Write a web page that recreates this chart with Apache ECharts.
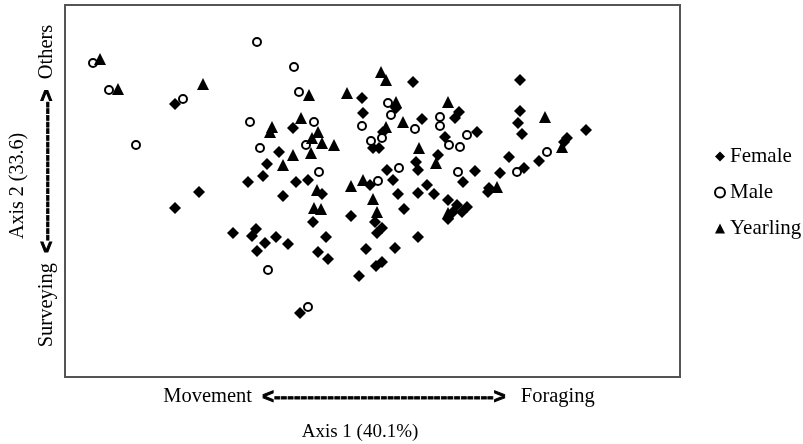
<!doctype html>
<html>
<head>
<meta charset="utf-8">
<script src="https://cdn.jsdelivr.net/npm/echarts@6/dist/echarts.min.js"></script>
<style>
  html, body { margin: 0; padding: 0; background: #fff; }
  #main { width: 803px; height: 444px; }
</style>
</head>
<body>
<div id="main"></div>
<script>
  // PCA scores (axis 1, axis 2)
  var female = [
    [-1.95, -0.18], [-1.71, -0.02], [-1.95, 0.86], [-1.03, 0.26], [-1.07, 0.14],
    [-1.22, 0.08], [-0.91, 0.38], [-0.77, 0.62], [-0.74, 0.08], [-0.62, 0.10],
    [-0.87, -0.06], [-0.48, -0.04], [-0.57, -0.32], [-0.19, -0.26], [-1.37, -0.43],
    [-1.14, -0.39], [-1.18, -0.46], [-0.94, -0.47], [-1.05, -0.53], [-0.82, -0.54],
    [-1.13, -0.61], [-0.44, -0.47], [-0.52, -0.62], [-0.42, -0.69], [-0.70, -1.23],
    [-0.11, -0.86], [-0.04, -0.59], [0.25, -0.58], [0.12, -0.72], [0.06, -0.76],
    [0.48, -0.47], [0.07, -0.43], [0.12, -0.38], [0.34, -0.19], [0.28, -0.04],
    [0.48, -0.03], [0.57, 0.05], [0.64, -0.04], [0.78, -0.10], [0.87, -0.15],
    [0.97, -0.17], [0.92, -0.22], [0.83, -0.22], [0.78, -0.29], [0.00, 0.05],
    [0.23, 0.10], [0.17, 0.20], [0.46, 0.28], [0.48, 0.20], [0.68, 0.35],
    [0.03, 0.42], [0.09, 0.42], [0.13, 0.58], [-0.08, 0.92], [-0.07, 0.77],
    [0.26, 0.82], [0.43, 1.08], [0.89, 0.78], [0.85, 0.72], [0.52, 0.71],
    [1.07, 0.58], [0.75, 0.53], [1.05, 0.19], [0.93, 0.08], [1.30, 0.17],
    [1.18, -0.02], [1.19, 0.02], [1.39, 0.33], [1.50, 1.10], [1.50, 0.79],
    [1.48, 0.67], [1.52, 0.56], [2.16, 0.60], [1.97, 0.52], [1.69, 0.29],
    [1.54, 0.22], [0.05, -0.32], [1.94, 0.48]
  ];
  var male = [
    [-2.77, 1.27], [-2.61, 1.00], [-1.87, 0.91], [-1.13, 1.48], [-2.34, 0.45],
    [-1.20, 0.68], [-1.10, 0.42], [-0.76, 1.23], [-0.71, 0.98], [-0.56, 0.68],
    [-0.64, 0.45], [-0.51, 0.18], [-1.02, -0.80], [-0.62, -1.17], [0.18, 0.87],
    [0.21, 0.75], [-0.08, 0.64], [0.01, 0.49], [0.12, 0.52], [0.08, 0.09],
    [0.29, 0.22], [0.45, 0.61], [0.70, 0.73], [0.70, 0.64], [0.97, 0.55],
    [0.79, 0.45], [0.90, 0.43], [0.88, 0.18], [1.47, 0.18], [1.77, 0.38]
  ];
  var yearling = [
    [-2.70, 1.31], [-2.52, 1.01], [-1.67, 1.06], [-0.98, 0.63], [-1.00, 0.58],
    [-0.61, 0.95], [-0.69, 0.72], [-0.52, 0.58], [-0.58, 0.52], [-0.48, 0.47],
    [-0.36, 0.45], [-0.77, 0.35], [-0.59, 0.37], [-0.87, 0.25], [-0.53, 0.00],
    [-0.56, -0.18], [-0.49, -0.19], [0.11, 1.18], [0.16, 1.10], [-0.23, 0.97],
    [0.26, 0.88], [0.33, 0.68], [0.16, 0.63], [0.78, 0.88], [0.49, 0.42],
    [0.66, 0.27], [1.75, 0.73], [1.92, 0.43], [1.27, 0.03], [-0.07, 0.10],
    [-0.19, 0.04], [0.03, -0.09], [0.07, -0.22], [0.78, -0.23]
  ];
  var groupNames = ['Female', 'Male', 'Yearling'];
  var xRange = [-3.05, 3.10];
  var yRange = [-1.87, 1.85];

  function dashes(n) { return new Array(n + 1).join('-'); }

  var serif = '"Liberation Serif", "DejaVu Serif", serif';
  var sans = '"Liberation Sans", Arial, sans-serif';
  // heavy arrow heads and dashes, like the original figure
  var richArrows = {
    a: { fontFamily: sans, fontWeight: 'bold', fontSize: 20, fill: '#000', stroke: '#000', lineWidth: 1 },
    d: { fontFamily: sans, fontWeight: 'bold', fontSize: 20, fill: '#000', stroke: '#000', lineWidth: 0.8 }
  };

  var chart = echarts.init(document.getElementById('main'));
  chart.setOption({
    animation: false,
    backgroundColor: '#fff',
    grid: { left: 65, right: 123, top: 5, bottom: 67, show: true, borderColor: '#555', borderWidth: 2, backgroundColor: 'transparent' },
    xAxis: {
      type: 'value', min: xRange[0], max: xRange[1],
      axisLine: { show: false }, axisTick: { show: false }, axisLabel: { show: false }, splitLine: { show: false }
    },
    yAxis: {
      type: 'value', min: yRange[0], max: yRange[1],
      axisLine: { show: false }, axisTick: { show: false }, axisLabel: { show: false }, splitLine: { show: false }
    },
    legend: {
      orient: 'vertical', left: 709, top: 141, itemGap: 15, itemTextGap: 12,
      itemWidth: 10, itemHeight: 10,
      textStyle: { fontFamily: serif, fontSize: 21, color: '#000' },
      data: [
        { name: 'Female', icon: 'diamond' },
        { name: 'Male', icon: 'circle' },
        { name: 'Yearling', icon: 'triangle' }
      ]
    },
    series: [
      { name: groupNames[0], type: 'scatter', symbol: 'diamond', symbolSize: 12, data: female,
        itemStyle: { color: '#000', opacity: 1 } },
      { name: groupNames[1], type: 'scatter', symbol: 'circle', symbolSize: 8, data: male,
        itemStyle: { color: '#fff', borderColor: '#000', borderWidth: 2, opacity: 1 } },
      { name: groupNames[2], type: 'scatter', symbol: 'triangle', symbolSize: 12, data: yearling,
        itemStyle: { color: '#000', opacity: 1 } }
    ],
    graphic: [
      { type: 'text', x: 379, y: 397,
        style: { text: 'Movement  {a|<}{d|' + dashes(33) + '}{a|>}   Foraging', rich: richArrows,
          font: '20.5px ' + serif, fill: '#000', align: 'center', verticalAlign: 'middle' } },
      { type: 'text', x: 360, y: 432,
        style: { text: 'Axis 1 (40.1%)', font: '19px ' + serif, fill: '#000', align: 'center', verticalAlign: 'middle' } },
      { type: 'text', x: 47, y: 186, rotation: Math.PI / 2,
        style: { text: 'Surveying  {a|<}{d|' + dashes(21) + '}{a|>}  Others', rich: richArrows,
          font: '20.5px ' + serif, fill: '#000', align: 'center', verticalAlign: 'middle' } },
      { type: 'text', x: 18, y: 186, rotation: Math.PI / 2,
        style: { text: 'Axis 2 (33.6)', font: '20px ' + serif, fill: '#000', align: 'center', verticalAlign: 'middle' } }
    ]
  });
</script>
</body>
</html>
